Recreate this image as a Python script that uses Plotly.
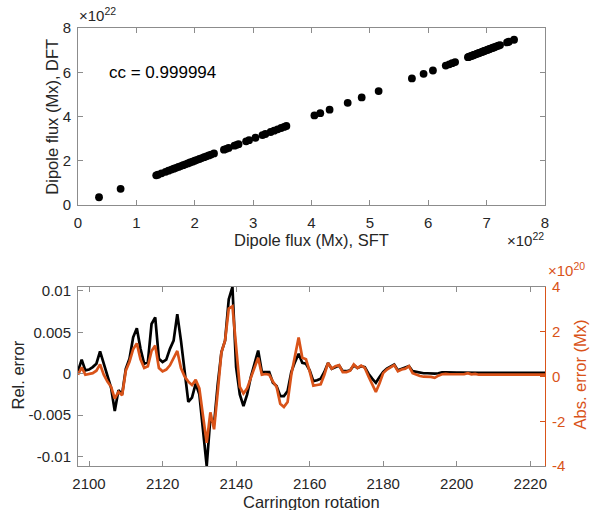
import plotly.graph_objects as go
import numpy as np

# ---------------- data ----------------
# Top panel: dipole flux (units of 1e22 Mx)
sft_flux_1e22 = [0.36, 0.73,
                 1.34, 1.37, 1.43, 1.50, 1.55, 1.60, 1.64, 1.68, 1.72, 1.76, 1.80, 1.84, 1.88,
                 1.92, 1.96, 2.00, 2.04, 2.08, 2.12, 2.16, 2.20, 2.24, 2.28, 2.33,
                 2.50, 2.54, 2.58, 2.68, 2.72, 2.75, 2.88, 2.93, 3.04, 3.16, 3.21, 3.30, 3.36,
                 3.42, 3.48, 3.53, 3.57,
                 4.05, 4.15, 4.31, 4.62, 4.86, 5.15, 5.72, 5.92, 6.08, 6.30, 6.36, 6.41, 6.46,
                 6.68, 6.70, 6.72, 6.74, 6.76, 6.78, 6.80, 6.82, 6.84, 6.86, 6.88, 6.90, 6.92,
                 6.94, 6.96, 6.98, 7.00, 7.02, 7.04, 7.06, 7.08, 7.10, 7.12, 7.14, 7.17, 7.20,
                 7.23, 7.35, 7.38, 7.47]
dft_flux_1e22 = [0.35, 0.73,
                 1.34, 1.37, 1.43, 1.50, 1.55, 1.60, 1.64, 1.68, 1.72, 1.76, 1.80, 1.84, 1.88,
                 1.92, 1.96, 2.00, 2.04, 2.08, 2.12, 2.16, 2.20, 2.24, 2.28, 2.33,
                 2.50, 2.54, 2.58, 2.68, 2.72, 2.75, 2.88, 2.93, 3.04, 3.16, 3.21, 3.30, 3.36,
                 3.42, 3.48, 3.53, 3.57,
                 4.05, 4.15, 4.31, 4.62, 4.86, 5.15, 5.72, 5.93, 6.08, 6.30, 6.36, 6.41, 6.46,
                 6.68, 6.70, 6.72, 6.74, 6.76, 6.78, 6.80, 6.82, 6.84, 6.86, 6.88, 6.90, 6.92,
                 6.94, 6.96, 6.98, 7.00, 7.02, 7.04, 7.06, 7.08, 7.10, 7.12, 7.14, 7.17, 7.20,
                 7.23, 7.35, 7.38, 7.47]
cc_text = "cc = 0.999994"

# Bottom panel: Carrington rotations 2097..2224
carrington = list(range(2097, 2225))
rel_error_1e3 = [  # relative error, units of 1e-3
    0.3, 1.7, 0.4, 0.5, 0.8, 1.2, 2.7, 1.2, -0.2, -1.7,
    -4.5, -2.0, -2.5, 0.6, 1.8, 4.4, 5.5, 3.0, 1.2, 1.4,
    6.0, 6.8, 1.8, 1.4, 1.7, 3.0, 4.0, 7.2, 4.0, 0.0,
    -3.4, -2.9, -1.2, -2.5, -6.5, -11.15, -5.3, -6.1, -1.3, 2.6,
    4.0, 9.0, 10.47, 0.8, -2.5, -3.9, -2.5, -0.4, 1.2, 2.8,
    0.2, 0.2, 0.2, -1.1, -1.5, -2.7, -2.7, -2.1, 0.2, 1.4,
    2.4, 1.3, 1.2, 0.4, -0.9, -0.8, -0.6, 0.2, 1.3, 0.6,
    0.8, 1.0, 0.3, 0.3, 0.4, 1.0, 0.7, 0.9, 0.8, 0.0,
    -0.6, -1.1, -0.4, 0.2, 0.6, 0.9, 1.1, 0.4, 0.6, 0.7,
    0.9, 0.3, 0.2, 0.1, 0.05, 0.05, 0.0, 0.0, 0.05, 0.15,
    0.15, 0.12, 0.1, 0.12, 0.12, 0.1, 0.15, 0.12, 0.12, 0.1,
    0.1, 0.1, 0.08, 0.08, 0.1, 0.1, 0.1, 0.08, 0.08, 0.08,
    0.08, 0.1, 0.1, 0.08, 0.08, 0.1, 0.1, 0.1]
abs_error_1e20 = [  # absolute error, units of 1e20 Mx
    0.08, 0.41, 0.08, 0.11, 0.15, 0.26, 0.54, 0.08, -0.23, -0.46,
    -0.99, -0.69, -0.84, 0.26, 0.66, 1.22, 1.48, 0.77, 0.38, 0.46,
    1.14, 1.38, 0.38, 0.23, 0.31, 0.5, 0.8, 1.14, 0.38, 0.0,
    -0.23, -0.38, -0.15, -0.53, -1.76, -2.96, -1.6, -2.36, -0.69, 1.07,
    1.61, 3.04, 3.14, 1.14, -0.46, -0.76, -0.53, -0.06, 0.38, 0.84,
    0.08, 0.11, 0.08, -0.23, -0.46, -1.22, -1.36, -1.14, 0.08, 0.92,
    1.74, 0.84, 0.77, 0.23, -0.41, -0.38, -0.35, 0.08, 0.61, 0.35,
    0.46, 0.51, 0.2, 0.2, 0.26, 0.54, 0.38, 0.49, 0.38, 0.0,
    -0.38, -0.69, -0.3, 0.15, 0.31, 0.41, 0.51, 0.23, 0.31, 0.35,
    0.46, 0.15, 0.08, 0.02, -0.01, -0.01, -0.02, -0.06, 0.04, 0.1,
    0.12, 0.1, 0.1, 0.1, 0.08, 0.1, 0.15, 0.1, 0.12, 0.08,
    0.08, 0.08, 0.08, 0.06, 0.08, 0.08, 0.08, 0.06, 0.06, 0.06,
    0.06, 0.08, 0.06, 0.06, 0.06, 0.06, 0.08, 0.08]

top_ticks = [0, 1, 2, 3, 4, 5, 6, 7, 8]
top_yticks = [0, 2, 4, 6, 8]
cr_ticks = [2100, 2120, 2140, 2160, 2180, 2200, 2220]
rel_ticks = [-0.01, -0.005, 0, 0.005, 0.01]
rel_ticktext = ["-0.01", "-0.005", "0", "0.005", "0.01"]
abs_ticks_1e20 = [-4, -2, 0, 2, 4]

# ---------------- styling ----------------
FONT = "Liberation Sans, Arial, Helvetica, sans-serif"
TXT = "#262626"
AX = "#8c8c8c"
ORANGE = "#D95319"
TICKF = dict(family=FONT, size=15, color=TXT)
LABF = dict(family=FONT, size=16.5, color=TXT)

W, H = 590, 510
ML, MR, MT, MB = 78, 45, 28, 44
PW, PH = W - ML - MR, H - MT - MB


def px2x(px):
    return (px - ML) / PW


def py2y(py):
    return (H - MB - py) / PH


fig = go.Figure()

fig.add_trace(go.Scatter(
    x=np.array(sft_flux_1e22) * 1e22, y=np.array(dft_flux_1e22) * 1e22,
    mode="markers", marker=dict(color="black", size=7.8),
    xaxis="x", yaxis="y", showlegend=False))

fig.add_trace(go.Scatter(
    x=carrington, y=np.array(rel_error_1e3) * 1e-3, mode="lines",
    line=dict(color="black", width=2.7), xaxis="x2", yaxis="y2", showlegend=False))

fig.add_trace(go.Scatter(
    x=carrington, y=np.array(abs_error_1e20) * 1e20, mode="lines",
    line=dict(color=ORANGE, width=2.7), xaxis="x2", yaxis="y3", showlegend=False))

common = dict(showgrid=False, zeroline=False, showline=True, linewidth=1,
              ticks="inside", ticklen=5, tickwidth=1, tickfont=TICKF)

fig.update_layout(
    width=W, height=H, margin=dict(l=ML, r=MR, t=MT, b=MB),
    paper_bgcolor="white", plot_bgcolor="white",
    xaxis=dict(domain=[0, 1], anchor="y", range=[0, 8e22],
               tickvals=[t * 1e22 for t in top_ticks], ticktext=[str(t) for t in top_ticks],
               linecolor=AX, tickcolor=AX, mirror="ticks", ticklabelstandoff=4, **common),
    yaxis=dict(domain=[py2y(205), 1], anchor="x", range=[0, 8e22],
               tickvals=[t * 1e22 for t in top_yticks], ticktext=[str(t) for t in top_yticks],
               linecolor=AX, tickcolor=AX, mirror="ticks", ticklabelstandoff=3, **common),
    xaxis2=dict(domain=[0, 1], anchor="y2", range=[2097, 2224], tickvals=cr_ticks,
                linecolor=AX, tickcolor=AX, mirror="ticks", ticklabelstandoff=4, **common),
    yaxis2=dict(domain=[0, py2y(287)], anchor="x2", range=[-0.01115, 0.01047],
                tickvals=rel_ticks, ticktext=rel_ticktext,
                linecolor=AX, tickcolor=AX, ticklabelstandoff=3, **common),
    yaxis3=dict(overlaying="y2", anchor="x2", side="right", range=[-4e20, 4e20],
                tickvals=[t * 1e20 for t in abs_ticks_1e20],
                ticktext=[str(t) for t in abs_ticks_1e20],
                linecolor=ORANGE, tickcolor=ORANGE, ticklabelstandoff=3,
                showgrid=False, zeroline=False, showline=True, linewidth=1,
                ticks="inside", ticklen=5, tickwidth=1,
                tickfont=dict(family=FONT, size=15, color=ORANGE)),
)

ann = []
# cc annotation inside top axes
ann.append(dict(x=0.5e22, y=6e22, xref="x", yref="y", text=cc_text, showarrow=False,
                xanchor="left", yanchor="middle", font=dict(family=FONT, size=17, color="black")))
# exponent labels
ann.append(dict(x=px2x(77), y=py2y(26), xref="paper", yref="paper", text="×10<sup>22</sup>",
                showarrow=False, xanchor="left", yanchor="bottom", font=TICKF))
ann.append(dict(x=px2x(546), y=py2y(251), xref="paper", yref="paper", text="×10<sup>22</sup>",
                showarrow=False, xanchor="right", yanchor="bottom", font=TICKF))
ann.append(dict(x=px2x(546), y=py2y(281), xref="paper", yref="paper", text="×10<sup>20</sup>",
                showarrow=False, xanchor="left", yanchor="bottom",
                font=dict(family=FONT, size=15, color=ORANGE)))
# axis titles
ann.append(dict(x=px2x(311.5), y=py2y(240), xref="paper", yref="paper",
                text="Dipole flux (Mx), SFT", showarrow=False, xanchor="center", yanchor="middle", font=LABF))
ann.append(dict(x=px2x(52), y=py2y(116.7), xref="paper", yref="paper",
                text="Dipole flux (Mx), DFT", showarrow=False, textangle=-90,
                xanchor="center", yanchor="middle", font=LABF))
ann.append(dict(x=px2x(311.5), y=py2y(501.5), xref="paper", yref="paper",
                text="Carrington rotation", showarrow=False, xanchor="center", yanchor="middle", font=LABF))
ann.append(dict(x=px2x(17.5), y=py2y(375), xref="paper", yref="paper",
                text="Rel. error", showarrow=False, textangle=-90,
                xanchor="center", yanchor="middle", font=LABF))
ann.append(dict(x=px2x(579.5), y=py2y(375), xref="paper", yref="paper",
                text="Abs. error (Mx)", showarrow=False, textangle=-90,
                xanchor="center", yanchor="middle",
                font=dict(family=FONT, size=16.5, color=ORANGE)))
fig.update_layout(annotations=ann)

fig.write_html(
    "out.html",
    config={"displayModeBar": False},
    post_script="document.body.style.margin='0';document.body.style.padding='0';",
)
